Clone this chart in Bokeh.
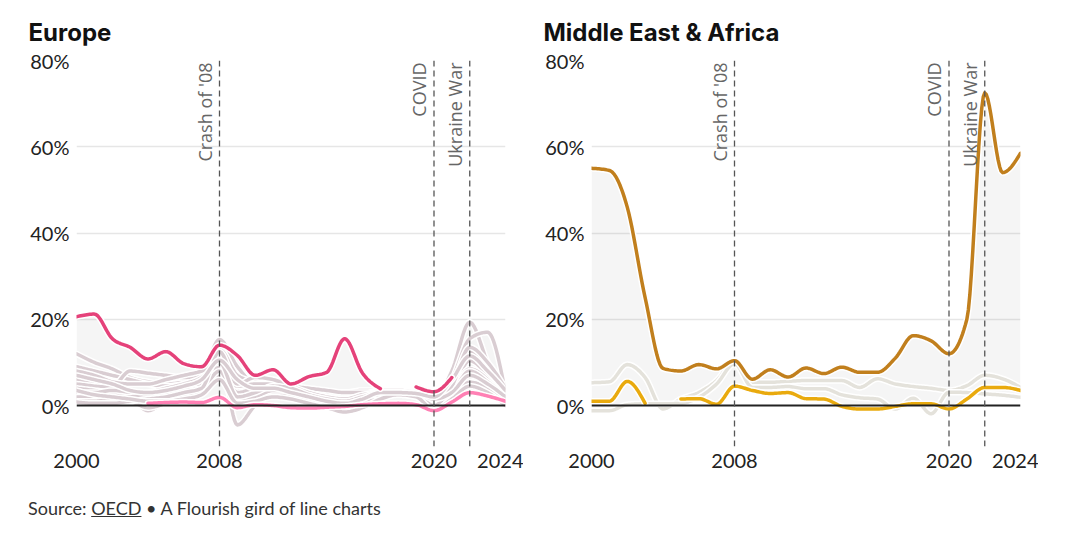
import numpy as np
from bokeh.plotting import figure
from bokeh.models import Span, Div
from bokeh.layouts import row, column
from bokeh.embed import file_html
from bokeh.resources import INLINE
from bokeh.core.properties import value

nan = float("nan")

years = list(range(2000, 2025))
tick_years = [2000, 2008, 2020, 2024]
y_ticks = [0, 20, 40, 60, 80]
y_tick_labels = ["0%", "20%", "40%", "60%", "80%"]
event_years = [2008, 2020, 2022]
event_labels = ["Crash of '08", "COVID", "Ukraine War"]

# ---- Europe ----
europe_main = [20.6, 21.2, 15.5, 13.5, 10.8, 12.5, 9.7, 9.0, 14.0, 11.6, 7.0, 8.3, 5.0,
               6.7, 7.7, 15.5, 7.5, 3.9, nan, 4.3, 3.2, 6.5, nan, nan, nan]
europe_second = [nan, nan, nan, nan, 0.5, 0.7, 0.8, 0.7, 1.9, -0.5, 0.2, 0.0, -0.5,
                 -0.6, -0.4, -0.2, 0.2, 0.4, 0.5, 0.2, -1.2, 0.8, 3.0, 2.2, 1.0]
europe_g1 = [12.0, 10.0, 8.5, 6.5, 5.5, 5.0, 5.5, 7.0, 15.3, 9.0, 5.0, 4.5, 3.5, 3.0, 2.5, 2.0, 3.0, 3.5, 3.5, 3.0, 1.5, 8.0, 19.3, 10.0, 1.0]
europe_g2 = [9.0, 8.0, 7.0, 6.0, 5.0, 4.5, 5.0, 6.5, 13.0, 7.0, 5.5, 5.0, 4.5, 3.5, 3.0, 3.0, 3.5, 3.5, 3.5, 3.0, 0.5, 6.0, 15.5, 17.0, 3.0]
europe_g3 = [6.0, 5.5, 4.5, 8.0, 7.5, 7.0, 6.5, 7.0, 12.0, 4.0, 4.5, 6.0, 5.0, 3.5, 2.0, 1.5, 2.5, 3.5, 3.5, 3.2, 1.5, 5.0, 12.4, 9.0, 2.0]
europe_g4 = [5.0, 4.5, 4.0, 2.0, -1.2, 1.0, 2.5, 4.0, 11.0, -4.5, 0.0, 2.5, 3.0, 2.0, 0.5, 0.0, 1.5, 3.0, 3.0, 2.5, 0.0, 4.0, 10.4, 7.0, 1.5]
europe_g5 = [4.0, 3.5, 3.0, 2.5, 3.0, 4.0, 5.0, 6.5, 10.0, 3.0, 4.0, 4.5, 3.0, 1.5, 0.0, -1.5, 1.5, 3.5, 3.5, 3.0, 1.0, 3.5, 8.5, 6.0, 1.0]
europe_g6 = [3.0, 3.0, 3.5, 3.0, 2.0, 2.5, 3.5, 5.0, 9.0, 4.5, 5.0, 5.0, 4.5, 4.0, 3.5, 3.0, 3.0, 3.0, 3.0, 2.5, -0.5, 2.5, 6.6, 5.0, 0.5]
europe_g7 = [2.0, 2.0, 1.5, 1.0, -0.5, 0.5, 2.0, 3.5, 7.0, 2.0, 2.0, 3.0, 2.5, 1.5, 0.5, -1.0, 0.5, 2.5, 3.0, 2.5, 0.5, 2.0, 5.4, 4.0, 0.5]
europe_g8 = [1.0, 1.0, 1.5, 2.0, 2.5, 3.0, 3.5, 4.0, 8.0, 1.0, 2.0, 3.5, 3.5, 2.5, 1.5, 1.0, 2.0, 2.5, 2.5, 2.0, 0.5, 3.0, 8.0, 5.5, 2.0]
europe_g9 = [0.8, 0.5, 0.5, 1.0, 1.5, 2.0, 3.0, 4.0, 12.5, 5.0, 6.5, 6.0, 4.5, 3.0, 2.0, 1.5, 2.5, 3.0, 3.0, 2.5, 0.0, 4.5, 13.5, 10.0, 4.0]
europe_g10 = [8.0, 7.0, 5.5, 5.0, 5.0, 6.0, 7.0, 8.0, 10.0, 2.0, 3.0, 4.5, 4.0, 2.5, 1.5, 1.0, 2.0, 3.0, 3.0, 3.0, 1.5, 3.0, 7.0, 5.0, 2.0]
europe_g11 = [3.5, 2.5, 2.0, 1.5, 1.0, 1.0, 1.5, 2.5, 6.0, 0.5, 1.0, 2.0, 1.5, 0.5, -0.5, -1.5, -0.5, 1.5, 2.5, 2.0, -1.0, 1.5, 4.5, 3.0, 0.0]
europe_g12 = [7.0, 6.0, 5.0, 3.5, 3.0, 3.5, 4.5, 6.0, 10.5, 6.0, 4.0, 4.0, 3.0, 2.0, 1.0, 0.5, 1.5, 3.0, 3.0, 2.8, 2.0, 6.0, 11.5, 8.0, 3.5]

# ---- Middle East & Africa ----
mea_main = [55.0, 54.5, 46.0, 25.0, 8.6, 8.0, 9.5, 8.5, 10.4, 6.1, 8.3, 6.6, 8.7,
            7.4, 8.9, 7.7, 7.7, 11.0, 16.2, 15.0, 12.0, 20.0, 72.5, 54.0, 58.5]
mea_second = [1.0, 1.0, 5.6, 0.5, nan, 1.5, 1.6, 0.3, 4.5, 3.5, 2.8, 3.0, 1.6,
              1.5, -0.2, -0.8, -0.8, -0.2, 0.4, 0.4, -0.8, 1.5, 4.2, 4.2, 3.5]
mea_g1 = [5.3, 5.5, 9.5, 6.5, -0.8, 1.5, 3.0, 5.8, 10.4, 5.4, 5.4, 5.6, 5.8,
          5.8, 5.8, 4.2, 6.2, 5.0, 4.4, 4.0, 3.5, 4.6, 7.0, 6.2, 4.2]
mea_g2 = [-1.2, -1.2, 0.2, 0.4, 0.4, 0.5, 1.9, 5.0, 9.7, 4.2, 4.2, 4.4, 3.9,
          3.9, 2.5, 1.8, 1.5, -0.8, 1.7, -1.9, 3.1, 3.0, 2.7, 2.4, 1.9]

FONT = "Lato"
N_SUB = 12


def monotone(xs, ys):
    """Render-time smoothing (monotone cubic) of yearly values; NaN breaks lines."""
    x = np.asarray(xs, float)
    y = np.asarray(ys, float)
    n = len(x)
    t = np.full(n, nan)
    ok = np.isfinite(y)
    i = 0
    while i < n:
        if not ok[i]:
            i += 1
            continue
        j = i
        while j + 1 < n and ok[j + 1]:
            j += 1
        idx = list(range(i, j + 1))
        if len(idx) == 1:
            t[i] = 0.0
        else:
            d = [y[k + 1] - y[k] for k in idx[:-1]]
            for m, k in enumerate(idx):
                if m == 0 or m == len(idx) - 1:
                    continue
                s0, s1 = d[m - 1], d[m]
                p = 0.5 * (s0 + s1)
                t[k] = (np.sign(s0) + np.sign(s1)) * min(abs(s0), abs(s1), 0.5 * abs(p))
            if len(idx) == 2:
                t[idx[0]] = d[0]
                t[idx[-1]] = d[0]
            else:
                t[idx[0]] = (3 * d[0] - t[idx[1]]) / 2
                t[idx[-1]] = (3 * d[-1] - t[idx[-2]]) / 2
        i = j + 1
    dx, dy = [], []
    for k in range(n - 1):
        for s in range(N_SUB):
            u = s / N_SUB
            dx.append(x[k] + u)
            if ok[k] and ok[k + 1]:
                h00 = 2 * u**3 - 3 * u**2 + 1
                h10 = u**3 - 2 * u**2 + u
                h01 = -2 * u**3 + 3 * u**2
                h11 = u**3 - u**2
                dy.append(h00 * y[k] + h10 * t[k] + h01 * y[k + 1] + h11 * t[k + 1])
            elif s == 0 and ok[k]:
                dy.append(y[k])
            else:
                dy.append(nan)
    dx.append(x[-1])
    dy.append(y[-1])
    return np.array(dx), np.array(dy)


def panel(title, main, second, greys, c_main, c_second, c_grey, left_pad):
    p = figure(width=515 + left_pad, height=486, x_range=(2000, 2024), y_range=(-9.5, 80),
               output_backend="svg", toolbar_location=None,
               min_border_left=68 + left_pad, min_border_right=18, min_border_top=60,
               min_border_bottom=40)
    p.outline_line_color = None
    p.title.text = title
    p.title.text_font = "Inter"
    p.title.text_font_style = "bold"
    p.title.text_font_size = "24px"
    p.title.text_color = "#111111"
    p.title.align = "left"
    p.title.offset = -48
    p.title.standoff = 27

    p.xgrid.grid_line_color = None
    p.ygrid.ticker = [20, 40, 60, 80]
    p.ygrid.grid_line_color = "#e6e6e6"
    p.ygrid.grid_line_width = 1.5

    p.xaxis.ticker = tick_years
    p.yaxis.ticker = y_ticks
    p.yaxis.major_label_overrides = {v: l for v, l in zip(y_ticks, y_tick_labels)}
    for ax in (p.xaxis, p.yaxis):
        ax.axis_line_color = None
        ax.major_tick_line_color = None
        ax.minor_tick_line_color = None
        ax.major_tick_out = 0
        ax.major_tick_in = 0
        ax.major_label_text_font = FONT
        ax.major_label_text_font_size = "20px"
        ax.major_label_text_color = "#222222"
    p.xaxis.major_label_standoff = 7
    p.yaxis.major_label_standoff = 7

    all_series = [main, second] + greys
    curves = [monotone(years, s) for s in all_series]
    dense_x = curves[0][0]
    stack = np.vstack([c[1] for c in curves])
    with np.errstate(all="ignore"):
        hi = np.nanmax(stack, axis=0)
        lo = np.nanmin(stack, axis=0)
    p.varea(x=dense_x, y1=lo, y2=hi, fill_color="#000000", fill_alpha=0.04)

    for cx, cy in curves[2:]:
        p.line(cx, cy, line_color="white", line_width=6.5, line_cap="round", line_join="round")
        p.line(cx, cy, line_color=c_grey, line_width=3.5, line_cap="round", line_join="round")

    p.add_layout(Span(location=0, dimension="width", line_color="#222222", line_width=2))

    for (cx, cy), col in [(curves[1], c_second), (curves[0], c_main)]:
        p.line(cx, cy, line_color="white", line_width=6.5, line_cap="round", line_join="round")
        p.line(cx, cy, line_color=col, line_width=3.5, line_cap="round", line_join="round")

    for ey in event_years:
        p.add_layout(Span(location=ey, dimension="height", line_color="#555555",
                          line_width=1.3, line_dash="6 4"))
    p.text(x=event_years, y=[80] * len(event_years), text=event_labels,
           angle=np.pi / 2, text_align="right", text_baseline="bottom",
           x_offset=-3, y_offset=2, text_font=value("Open Sans"),
           text_font_size="18px", text_color="#666666")
    return p


p1 = panel("Europe", europe_main, europe_second,
           [europe_g1, europe_g2, europe_g3, europe_g4, europe_g5, europe_g6,
            europe_g7, europe_g8, europe_g9, europe_g10, europe_g11, europe_g12],
           "#e5427a", "#ff80b4", "#d9cdd2", 8)
p2 = panel("Middle East & Africa", mea_main, mea_second, [mea_g1, mea_g2],
           "#c17f1d", "#e9aa0e", "#e4e2db", 0)

footer = Div(text='Source: <u>OECD</u> &bull; A Flourish gird of line charts',
             margin=(0, 0, 0, 28),
             styles={"font-family": FONT, "font-size": "18px", "color": "#333333",
                     "padding-top": "10px"})

layout = column(row(p1, p2), footer)
open("out.html", "w").write(file_html(layout, INLINE))
